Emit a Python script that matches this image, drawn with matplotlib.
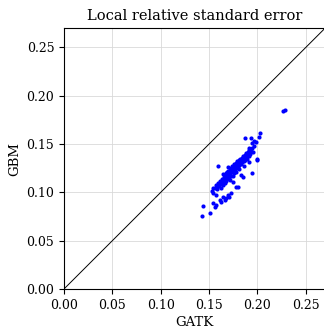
import numpy as np
import matplotlib
matplotlib.use("Agg")
import matplotlib.pyplot as plt

plt.rcParams['font.family'] = 'DejaVu Serif'

# GATK vs GBM local relative standard error
gatk = [
    # main band
    0.153, 0.154, 0.156, 0.157, 0.158, 0.158, 0.159, 0.160, 0.161, 0.161,
    0.162, 0.163, 0.163, 0.164, 0.165, 0.165, 0.166, 0.166, 0.167, 0.167,
    0.168, 0.168, 0.169, 0.169, 0.170, 0.170, 0.171, 0.171, 0.172, 0.172,
    0.173, 0.173, 0.173, 0.174, 0.174, 0.175, 0.175, 0.176, 0.176, 0.176,
    0.177, 0.177, 0.178, 0.178, 0.179, 0.179, 0.180, 0.180, 0.181, 0.181,
    0.182, 0.182, 0.183, 0.183, 0.184, 0.184, 0.185, 0.185, 0.186, 0.186,
    0.187, 0.187, 0.188, 0.188, 0.189, 0.189, 0.190, 0.191, 0.191, 0.192,
    0.193, 0.194, 0.195, 0.196, 0.172, 0.175, 0.178, 0.181, 0.170, 0.167,
    0.164, 0.186,
    # lower branch and stragglers
    0.1541, 0.1575, 0.1609, 0.1643, 0.1677, 0.1694, 0.1711, 0.1541, 0.1558,
    0.1575, 0.1626, 0.1660, 0.1728, 0.1779, 0.1796, 0.1745, 0.1830, 0.1847,
    # outliers
    0.2265, 0.2280, 0.1874, 0.2027, 0.2017, 0.1932, 0.1966, 0.1990, 0.1949,
    0.1915, 0.2000, 0.1993, 0.1915, 0.1942, 0.1592, 0.1439, 0.1422, 0.1514,
]
gbm = [
    0.101, 0.105, 0.104, 0.108, 0.106, 0.103, 0.110, 0.107, 0.112, 0.109,
    0.105, 0.114, 0.111, 0.108, 0.116, 0.113, 0.110, 0.118, 0.115, 0.112,
    0.119, 0.116, 0.114, 0.121, 0.118, 0.122, 0.116, 0.120, 0.123, 0.119,
    0.125, 0.121, 0.117, 0.124, 0.127, 0.122, 0.126, 0.120, 0.124, 0.129,
    0.127, 0.123, 0.130, 0.125, 0.128, 0.132, 0.126, 0.130, 0.133, 0.128,
    0.131, 0.135, 0.129, 0.133, 0.136, 0.131, 0.134, 0.138, 0.132, 0.136,
    0.139, 0.134, 0.137, 0.141, 0.135, 0.139, 0.142, 0.138, 0.144, 0.140,
    0.143, 0.146, 0.142, 0.148, 0.113, 0.117, 0.121, 0.124, 0.126, 0.120,
    0.119, 0.127,
    0.0990, 0.0972, 0.0921, 0.0955, 0.0938, 0.0972, 0.0955, 0.0886, 0.0852,
    0.0869, 0.0903, 0.0921, 0.0990, 0.1059, 0.1059, 0.1110, 0.1179, 0.1162,
    0.1845, 0.1855, 0.1566, 0.1610, 0.1570, 0.1559, 0.1530, 0.1520, 0.1507,
    0.1462, 0.1345, 0.1334, 0.1317, 0.1203, 0.1276, 0.0862, 0.0759, 0.0783,
]

lim = 0.27
ticks = [0.00, 0.05, 0.10, 0.15, 0.20, 0.25]

fig = plt.figure(figsize=(3.24, 3.29), dpi=100)
ax = fig.add_axes([0.1975, 0.1216, 0.806, 0.793])

ax.plot([0, lim], [0, lim], color='k', lw=0.7, zorder=2)
ax.scatter(gatk, gbm, s=9, color='blue', linewidths=0, zorder=3)

ax.set_xlim(0, lim)
ax.set_ylim(0, lim)
ax.set_xticks(ticks)
ax.set_yticks(ticks)
ax.tick_params(labelsize=9)
ax.grid(True, color='#d9d9d9', lw=0.6)
ax.set_axisbelow(True)
ax.set_xlabel('GATK', fontsize=9.5, labelpad=3)
ax.set_ylabel('GBM', fontsize=9.5)
ax.set_title('Local relative standard error', fontsize=10.5)

fig.savefig('out.png', dpi=100)
